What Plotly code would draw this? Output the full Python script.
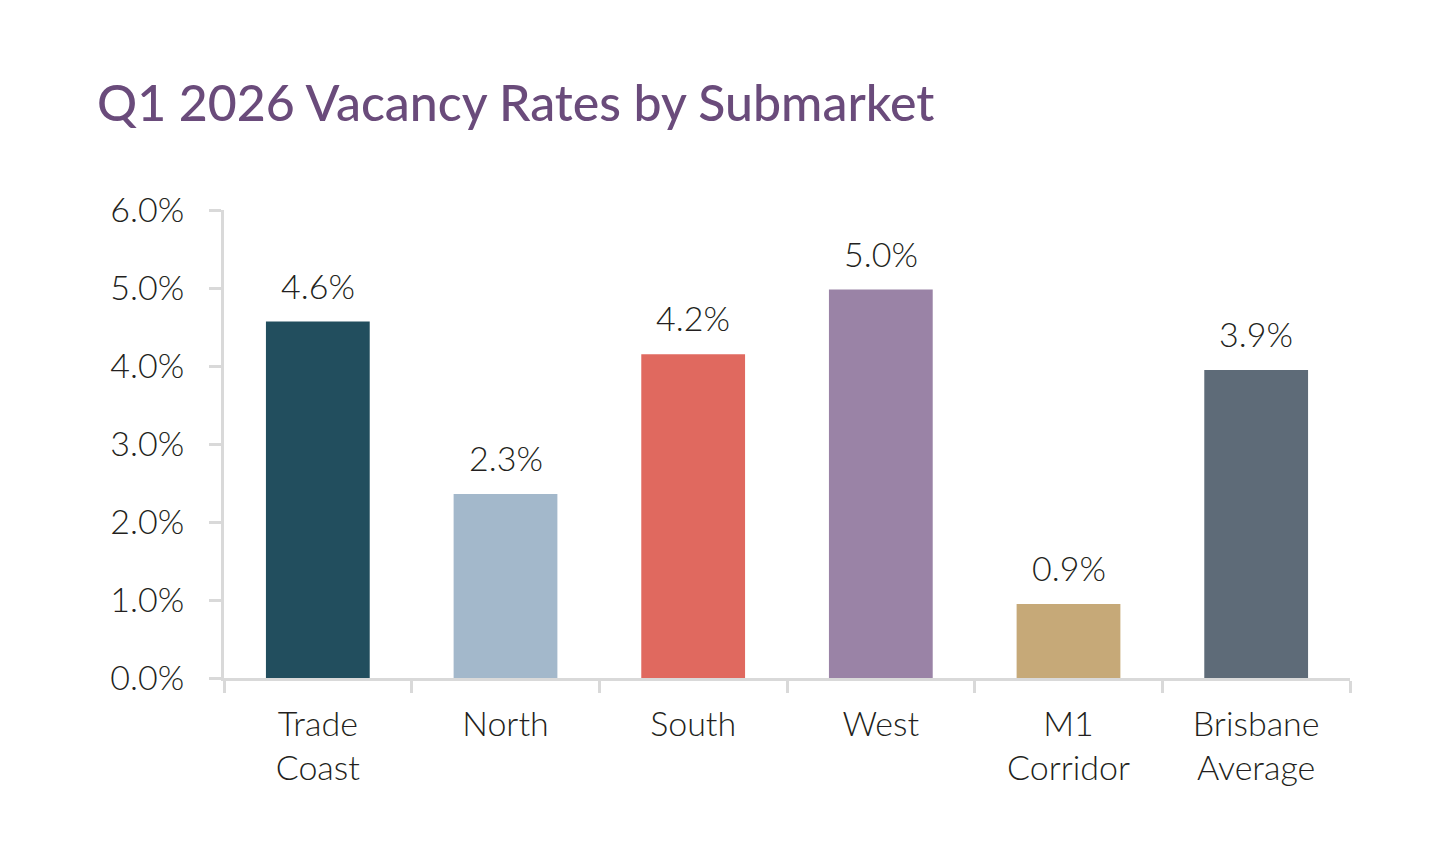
import plotly.graph_objects as go

categories = ["Trade<br>Coast", "North", "South", "West", "M1<br>Corridor", "Brisbane<br>Average"]
values = [4.57, 2.36, 4.15, 4.98, 0.95, 3.95]
value_labels = ["4.6%", "2.3%", "4.2%", "5.0%", "0.9%", "3.9%"]
colors = ["#224e5e", "#a3b8cb", "#e0695f", "#9a83a6", "#c6a978", "#5e6b78"]
y_ticks = [0, 1, 2, 3, 4, 5, 6]
y_tick_labels = ["0.0%", "1.0%", "2.0%", "3.0%", "4.0%", "5.0%", "6.0%"]

FONT = "Lato"
TEXT = "#231f20"
AXIS = "#d9d9d9"

fig = go.Figure()
fig.add_trace(go.Bar(
    x=categories, y=values, marker=dict(color=colors, line=dict(width=0)),
    width=0.553, hoverinfo="skip",
))
for c, v, lab in zip(categories, values, value_labels):
    fig.add_annotation(x=c, y=v, text=lab, showarrow=False, yanchor="bottom",
                       yshift=14, font=dict(family=FONT, size=34, color=TEXT, weight=300))

fig.update_layout(
    width=1438, height=859,
    margin=dict(l=224, r=88, t=210, b=181),
    paper_bgcolor="white", plot_bgcolor="white",
    showlegend=False,
    title=dict(text="Q1 2026 Vacancy Rates by Submarket", x=97/1438, xanchor="left",
               y=1-103/859, yanchor="middle",
               font=dict(family=FONT, size=50, color="#6a4b7b", weight=500)),
    bargap=0.447,
)
fig.update_yaxes(
    range=[0, 6], tickvals=y_ticks, ticktext=y_tick_labels,
    showgrid=False, zeroline=False, showline=True, linecolor=AXIS, linewidth=3,
    ticks="outside", ticklen=12, tickwidth=3, tickcolor=AXIS, ticklabelstandoff=18,
    tickfont=dict(family=FONT, size=34, color=TEXT, weight=300),
)
fig.update_xaxes(
    showgrid=False, showline=True, linecolor=AXIS, linewidth=3,
    ticks="outside", tickson="boundaries", ticklen=12, tickwidth=3, tickcolor=AXIS,
    ticklabelstandoff=14,
    tickfont=dict(family=FONT, size=34, color=TEXT, weight=300),
)
fig.write_html("out.html")
